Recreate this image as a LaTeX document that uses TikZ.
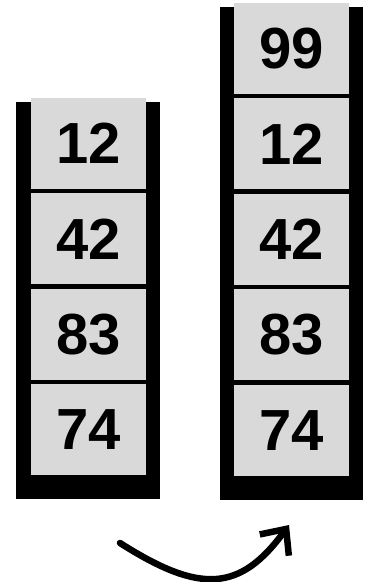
\documentclass[tikz,border=0pt]{standalone}
\usepackage{fontspec}
\setmainfont{Liberation Sans}
\usetikzlibrary{positioning,arrows.meta,calc,backgrounds}
\definecolor{stGray}{HTML}{D9D9D9}
\tikzset{
  st-cell/.style={
    fill=stGray, inner sep=0pt, minimum width=115pt, minimum height=91pt,
    font=\fontsize{58}{58}\selectfont\bfseries
  },
  st-frame/.style={fill=black},
  st-push/.style={-{Straight Barb[length=20pt, width=36pt]},
    line width=6.5pt, line cap=round}
}
\begin{document}
\begin{tikzpicture}[x=1pt, y=1pt, node distance=4pt]
\useasboundingbox (0,0) rectangle (366,582);

% stack before
\node[st-cell] (a1) at (88.5,438.5) {12};
\node[st-cell, below=of a1] (a2) {42};
\node[st-cell, below=of a2] (a3) {83};
\node[st-cell, below=of a3] (a4) {74};

% stack after push
\node[st-cell] (b0) at (291.5,533.5) {99};
\node[st-cell, below=of b0] (b1) {12};
\node[st-cell, below=of b1] (b2) {42};
\node[st-cell, below=of b2] (b3) {83};
\node[st-cell, below=of b3] (b4) {74};

\begin{scope}[on background layer]
  \fill[st-frame] ($(a1.north west)+(-15,-4)$) rectangle ($(a4.south east)+(14,-24)$);
  \fill[st-frame] ($(b0.north west)+(-14,-4)$) rectangle ($(b4.south east)+(14,-24)$);
\end{scope}

% arrow
\coordinate (from) at (120,39);
\coordinate (to) at (289,57);
\draw[st-push] (from) .. controls (200,-12) and (240,-10) .. (to);
\end{tikzpicture}
\end{document}
